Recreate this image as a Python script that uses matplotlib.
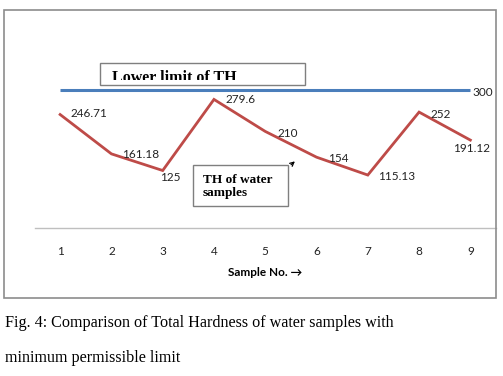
import matplotlib
matplotlib.use("Agg")
import matplotlib.pyplot as plt
from matplotlib.patches import Rectangle

samples = [1, 2, 3, 4, 5, 6, 7, 8, 9]
th_values = [246.71, 161.18, 125, 279.6, 210, 154, 115.13, 252, 191.12]
th_labels = ["246.71", "161.18", "125", "279.6", "210", "154", "115.13", "252", "191.12"]
lower_limit = [300] * 9

W, H = 503, 376
fig = plt.figure(figsize=(W / 100, H / 100), dpi=100)


def fx(x):
    return x / W


def fy(y):
    return 1 - y / H


# outer chart frame
fig.patches.append(Rectangle((fx(4), fy(298)), fx(492), 288 / H, transform=fig.transFigure,
                             fill=False, ec="#8c8c8c", lw=1.2))

ax = fig.add_axes([fx(34.5), fy(228), fx(496) - fx(34.5), fy(10) - fy(228)])
ax.set_xlim(0.5, 9.5)
ax.set_ylim(0, 474)
for s in ("top", "right", "left"):
    ax.spines[s].set_visible(False)
ax.spines["bottom"].set_color("#bfbfbf")
ax.spines["bottom"].set_linewidth(1.0)
ax.set_yticks([])
ax.set_xticks(samples)
ax.set_xticklabels([str(s) for s in samples], fontsize=8.5, family="Lato", color="#222222")
ax.tick_params(axis="x", length=0, pad=13)
ax.set_xlabel("Sample No. \u2192", fontsize=8.5, family=["Lato", "DejaVu Sans"],
              fontweight="bold", labelpad=7)

ax.plot(samples, lower_limit, color="#4a7ebb", lw=2.2, solid_capstyle="butt")
ax.plot(samples, th_values, color="#be4b48", lw=2.0, solid_joinstyle="miter")

offsets = [(10, 1), (11, -1), (-3, -7), (12, 0), (12, -2), (12, -1), (10, -1), (11, -2), (-17, -8)]
for x, v, lab, off in zip(samples, th_values, th_labels, offsets):
    ax.annotate(lab, (x, v), textcoords="offset pixels", xytext=off, ha="left", va="center",
                fontsize=8.5, family="Lato", color="#222222")
ax.annotate("300", (samples[-1], lower_limit[-1]), textcoords="offset pixels", xytext=(2, -2),
            ha="left", va="center", fontsize=8.5, family="Lato", color="#222222")

# text boxes
box1 = Rectangle((fx(100), fy(85)), fx(205), 22 / H, transform=fig.transFigure,
                 fill=True, fc="white", ec="#7f7f7f", lw=1.0)
fig.patches.append(box1)
clip1 = Rectangle((fx(100), fy(80)), fx(205), 17 / H, transform=fig.transFigure,
                  fill=False, visible=False)
fig.patches.append(clip1)
t1 = fig.text(fx(112), fy(70.5), "Lower limit of TH", family="Liberation Serif",
              fontweight="bold", fontsize=11.5, va="top", ha="left")
t1.set_clip_path(clip1)

box2 = Rectangle((fx(193), fy(206)), fx(95), 41 / H, transform=fig.transFigure,
                 fill=True, fc="white", ec="#7f7f7f", lw=1.0)
fig.patches.append(box2)
fig.text(fx(203), fy(186.5), "TH of water\nsamples", family="Liberation Serif",
         fontweight="bold", fontsize=9.5, va="center", ha="left", linespacing=1.15)
fig.add_artist(matplotlib.patches.FancyArrowPatch((fx(289), fy(166.5)), (fx(297), fy(159.5)),
                                                  transform=fig.transFigure, arrowstyle="->",
                                                  mutation_scale=7, lw=0.9, color="black"))

# caption
fig.text(fx(5), fy(323), "Fig. 4: Comparison of Total Hardness of water samples with",
         family="Liberation Serif", fontsize=11.6, va="center", ha="left")
fig.text(fx(5), fy(358), "minimum permissible limit",
         family="Liberation Serif", fontsize=11.6, va="center", ha="left")

fig.savefig("out.png", dpi=100)
